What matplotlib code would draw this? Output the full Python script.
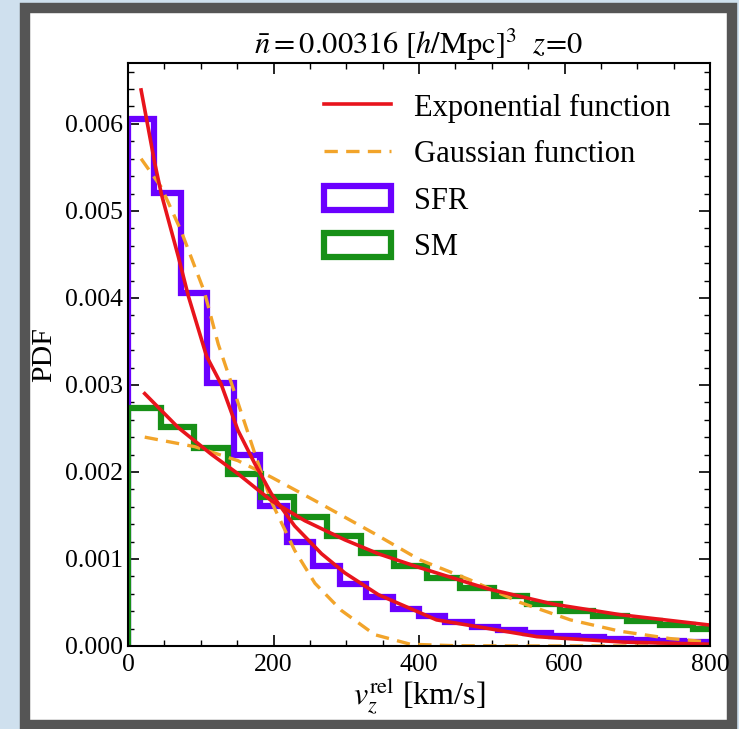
import numpy as np
import matplotlib
matplotlib.use("Agg")
import matplotlib.pyplot as plt
from matplotlib.patches import Rectangle
from matplotlib.ticker import MultipleLocator, FormatStrFormatter

plt.rcParams['font.family'] = 'serif'
plt.rcParams['font.serif'] = ['Liberation Serif', 'STIXGeneral', 'DejaVu Serif']
plt.rcParams['mathtext.fontset'] = 'stix'

# Histograms (PDF in units of 1e-3)
sfr_edges = np.linspace(0, 800, 23)
sfr_pdf = [6.06, 5.21, 4.06, 3.02, 2.19, 1.61, 1.20, 0.92, 0.71, 0.56, 0.43,
           0.34, 0.28, 0.22, 0.18, 0.145, 0.115, 0.10, 0.085, 0.07, 0.06, 0.05]
sm_edges = np.arange(19) * 45.7
sm_pdf = [2.74, 2.52, 2.27, 1.98, 1.71, 1.48, 1.26, 1.07, 0.92, 0.78, 0.67,
          0.57, 0.48, 0.40, 0.34, 0.29, 0.24, 0.20]

# Fitted curves (units of 1e-3)
sfr_exp_v = [18, 37, 46, 69, 83, 108, 128, 151, 174, 197, 229, 266, 298, 344, 424, 562, 680, 800]
sfr_exp_p = [6.39, 5.54, 5.19, 4.48, 4.02, 3.33, 3.01, 2.48, 2.10, 1.75, 1.38, 1.06, 0.84, 0.59,
             0.30, 0.107, 0.045, 0.02]
sfr_gau_v = [18, 46, 73, 105, 124, 151, 174, 197, 229, 257, 293, 339, 388, 450, 550, 650, 800]
sfr_gau_p = [5.60, 5.27, 4.77, 4.07, 3.47, 2.80, 2.22, 1.66, 1.10, 0.72, 0.41, 0.13, 0.02,
             0.003, 0.0, 0.0, 0.0]
sm_exp_v = [23, 69, 115, 151, 197, 243, 298, 344, 401, 493, 585, 676, 800]
sm_exp_p = [2.90, 2.51, 2.20, 1.98, 1.67, 1.44, 1.22, 1.06, 0.90, 0.66, 0.48, 0.36, 0.24]
sm_gau_v = [23, 92, 151, 197, 257, 339, 401, 470, 539, 608, 676, 745, 800]
sm_gau_p = [2.40, 2.29, 2.13, 1.94, 1.67, 1.29, 0.99, 0.76, 0.50, 0.30, 0.17, 0.085, 0.045]

c_sfr = '#6a00ff'
c_sm = '#179017'
c_exp = '#e8141c'
c_gau = '#f2a42a'

fig = plt.figure(figsize=(7.39, 7.29), dpi=100)
fig.patch.set_facecolor('#cfe0ee')
fig.add_artist(Rectangle((25 / 739, 4 / 729), 707 / 739, 717.5 / 729,
                         transform=fig.transFigure, facecolor='white',
                         edgecolor='#555555', lw=7.5, zorder=-1))

ax = fig.add_axes([0.1732, 0.1139, 0.7876, 0.7997])

s = 1e-3
_, _, h_sfr = ax.hist(sfr_edges[:-1], bins=sfr_edges, weights=np.array(sfr_pdf) * s,
                      histtype='step', color=c_sfr, lw=4.5)
_, _, h_sm = ax.hist(sm_edges[:-1], bins=sm_edges, weights=np.array(sm_pdf) * s,
                     histtype='step', color=c_sm, lw=4.5)

l_gau, = ax.plot(sfr_gau_v, np.array(sfr_gau_p) * s, color=c_gau, lw=2.4, ls=(0, (4, 2.5)))
ax.plot(sm_gau_v, np.array(sm_gau_p) * s, color=c_gau, lw=2.4, ls=(0, (4, 2.5)))
l_exp, = ax.plot(sfr_exp_v, np.array(sfr_exp_p) * s, color=c_exp, lw=2.6)
ax.plot(sm_exp_v, np.array(sm_exp_p) * s, color=c_exp, lw=2.6)

ax.set_xlim(0, 800)
ax.set_ylim(0, 0.0067)
ax.xaxis.set_major_locator(MultipleLocator(200))
ax.xaxis.set_minor_locator(MultipleLocator(50))
ax.yaxis.set_major_locator(MultipleLocator(0.001))
ax.yaxis.set_minor_locator(MultipleLocator(0.0002))
ax.yaxis.set_major_formatter(FormatStrFormatter('%.3f'))
ax.tick_params(which='both', direction='in', top=True, right=True, labelsize=18.5)
ax.tick_params(which='major', length=8, width=1.2)
ax.tick_params(which='minor', length=4, width=1.0)
ax.tick_params(axis='x', which='major', pad=6)
for sp in ax.spines.values():
    sp.set_linewidth(1.5)

ax.set_xlabel(r'$v_z^{\rm rel}$ [km/s]', fontsize=23, labelpad=0)
ax.set_ylabel('PDF', fontsize=21.5, labelpad=6)
ax.set_title(r'$\bar{n}=0.00316\ [h/{\rm Mpc}]^3\ \ z\!=\!0$', fontsize=22, pad=4)

ax.legend([l_exp, l_gau, h_sfr[0], h_sm[0]],
          ['Exponential function', 'Gaussian function', 'SFR', 'SM'],
          loc='upper left', bbox_to_anchor=(0.31, 0.975), frameon=False,
          fontsize=22, handlelength=2.2, handleheight=0.85, handletextpad=0.75,
          labelspacing=0.55, borderpad=0)

fig.savefig('out.png', dpi=100, facecolor=fig.get_facecolor())
